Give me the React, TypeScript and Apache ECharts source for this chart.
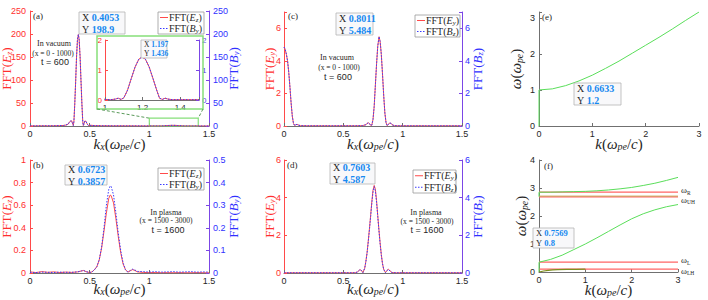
import React, { useEffect, useRef } from 'react';
import * as echarts from 'echarts';

// ================= DATA =================
// (a) in vacuum (x = 0 - 1000), t = 600
const aK = [0, 0.05, 0.1, 0.15, 0.2, 0.25, 0.28, 0.3, 0.32, 0.33, 0.34, 0.35, 0.357, 0.363, 0.368, 0.375, 0.383, 0.39, 0.398, 0.4053, 0.412, 0.42, 0.427, 0.435, 0.442, 0.447, 0.453, 0.46, 0.47, 0.48, 0.49, 0.51, 0.55, 0.6, 0.7, 0.8, 0.9, 1.0, 1.03, 1.055, 1.07, 1.085, 1.1, 1.12, 1.14, 1.16, 1.18, 1.197, 1.215, 1.235, 1.255, 1.275, 1.29, 1.305, 1.32, 1.335, 1.36, 1.4, 1.45, 1.5];
const aEz = [0.3, 0.2, 0.4, 0.3, 0.5, 0.7, 1.2, 2, 4, 8, 11, 11, 5, 1, 10, 48, 100, 150, 188, 198.9, 188, 150, 100, 48, 10, 1, 5, 11, 10, 4, 1, 1.5, 0.8, 0.5, 0.3, 0.3, 0.2, 0.02, 0.01, 0.03, 0.06, 0.02, 0.07, 0.33, 0.72, 1.1, 1.36, 1.436, 1.36, 1.1, 0.72, 0.33, 0.06, 0.02, 0.06, 0.03, 0.01, 0.01, 0.01, 0.01];
const aBy = [0.2, 0.3, 0.3, 0.4, 0.4, 0.8, 1.0, 2.2, 4, 8.5, 11, 10.5, 5, 1, 10, 47, 99, 151, 189, 198.9, 187, 149, 101, 47, 10, 1, 5, 11, 9.5, 4, 1, 1.3, 0.7, 0.5, 0.3, 0.2, 0.2, 0.02, 0.01, 0.03, 0.06, 0.02, 0.07, 0.33, 0.72, 1.1, 1.36, 1.436, 1.36, 1.1, 0.72, 0.33, 0.06, 0.02, 0.06, 0.03, 0.01, 0.01, 0.01, 0.01];
const aTip = ['0.4053', '198.9'];
const insetTip = ['1.197', '1.436'];
const zoomBoxK = [1, 1.41];
const zoomBoxV = [0, 17];

// (b) in plasma (x = 1500 - 3000), t = 1600
const bK = [0, 0.05, 0.1, 0.15, 0.2, 0.25, 0.3, 0.35, 0.4, 0.43, 0.45, 0.47, 0.5, 0.52, 0.54, 0.56, 0.58, 0.6, 0.62, 0.64, 0.66, 0.6723, 0.68, 0.7, 0.72, 0.74, 0.76, 0.78, 0.8, 0.82, 0.84, 0.86, 0.88, 0.9, 0.95, 1.0, 1.05, 1.1, 1.15, 1.2, 1.25, 1.3, 1.35, 1.4, 1.45, 1.5];
const bEz = [0.01, 0.004, 0.012, 0.006, 0.01, 0.004, 0.008, 0.005, 0.01, 0.018, 0.022, 0.012, 0.004, 0.01, 0.03, 0.055, 0.115, 0.22, 0.37, 0.53, 0.66, 0.69, 0.685, 0.62, 0.48, 0.32, 0.18, 0.08, 0.03, 0.008, 0.02, 0.03, 0.022, 0.01, 0.005, 0.003, 0.004, 0.002, 0.003, 0.002, 0.003, 0.002, 0.002, 0.003, 0.002, 0.002];
const bBy = [0.003, 0.002, 0.004, 0.003, 0.002, 0.004, 0.003, 0.003, 0.005, 0.009, 0.011, 0.006, 0.002, 0.005, 0.014, 0.028, 0.058, 0.115, 0.2, 0.3, 0.37, 0.3857, 0.383, 0.345, 0.265, 0.175, 0.1, 0.045, 0.015, 0.004, 0.011, 0.017, 0.013, 0.007, 0.006, 0.004, 0.006, 0.004, 0.005, 0.006, 0.004, 0.005, 0.006, 0.004, 0.005, 0.004];
const bTip = ['0.6723', '0.3857'];

// (c) in vacuum (x = 0 - 1000), t = 600
const cK = [0, 0.01, 0.02, 0.03, 0.04, 0.05, 0.06, 0.07, 0.08, 0.09, 0.1, 0.11, 0.12, 0.14, 0.2, 0.3, 0.4, 0.5, 0.6, 0.66, 0.69, 0.7, 0.71, 0.72, 0.73, 0.74, 0.75, 0.76, 0.77, 0.78, 0.79, 0.8011, 0.81, 0.82, 0.83, 0.84, 0.85, 0.86, 0.87, 0.88, 0.89, 0.9, 0.91, 0.93, 0.96, 1.0, 1.1, 1.2, 1.3, 1.4, 1.5];
const cEy = [4.85, 4.7, 4.4, 4.0, 3.3, 2.4, 1.4, 0.6, 0.15, 0.03, 0.08, 0.1, 0.06, 0.02, 0.01, 0.01, 0.01, 0.01, 0.01, 0.02, 0.08, 0.15, 0.2, 0.15, 0.04, 0.05, 0.4, 1.2, 2.5, 3.8, 4.9, 5.484, 5.2, 4.4, 3.2, 1.9, 0.8, 0.2, 0.02, 0.1, 0.19, 0.17, 0.08, 0.02, 0.01, 0.01, 0.01, 0.01, 0.01, 0.01, 0.01];
const cBz = [4.85, 4.72, 4.42, 4.0, 3.32, 2.4, 1.42, 0.6, 0.16, 0.03, 0.08, 0.1, 0.06, 0.02, 0.01, 0.01, 0.01, 0.01, 0.01, 0.02, 0.08, 0.15, 0.2, 0.15, 0.04, 0.05, 0.4, 1.2, 2.5, 3.8, 4.9, 5.484, 5.2, 4.4, 3.2, 1.9, 0.8, 0.2, 0.02, 0.1, 0.19, 0.17, 0.08, 0.02, 0.01, 0.01, 0.01, 0.01, 0.01, 0.01, 0.01];
const cTip = ['0.8011', '5.484'];

// (d) in plasma (x = 1500 - 3000), t = 1600
const dK = [0, 0.1, 0.2, 0.3, 0.4, 0.5, 0.55, 0.6, 0.62, 0.64, 0.655, 0.665, 0.68, 0.69, 0.7, 0.71, 0.72, 0.73, 0.74, 0.75, 0.7603, 0.77, 0.78, 0.79, 0.8, 0.81, 0.82, 0.83, 0.84, 0.855, 0.87, 0.88, 0.895, 0.91, 0.95, 1.0, 1.1, 1.2, 1.3, 1.4, 1.5];
const dEy = [0.01, 0.01, 0.01, 0.01, 0.01, 0.01, 0.01, 0.01, 0.06, 0.18, 0.12, 0.02, 0.25, 0.62, 1.08, 1.7, 2.35, 3.05, 3.78, 4.4, 4.65, 4.45, 3.85, 3.05, 2.3, 1.6, 0.98, 0.5, 0.2, 0.02, 0.15, 0.2, 0.1, 0.02, 0.01, 0.01, 0.01, 0.01, 0.01, 0.01, 0.01];
const dBz = [0.01, 0.01, 0.01, 0.01, 0.01, 0.01, 0.01, 0.01, 0.06, 0.18, 0.12, 0.02, 0.25, 0.6, 1.05, 1.65, 2.3, 3.0, 3.7, 4.3, 4.587, 4.35, 3.75, 3.0, 2.25, 1.55, 0.95, 0.5, 0.2, 0.02, 0.15, 0.2, 0.1, 0.02, 0.01, 0.01, 0.01, 0.01, 0.01, 0.01, 0.01];
const dTip = ['0.7603', '4.587'];

// (e) vacuum dispersion
const eK = [0, 0, 0.25, 0.5, 0.75, 1, 1.25, 1.5, 1.75, 2, 2.25, 2.5, 2.75, 3];
const eW = [0, 1, 1.03, 1.12, 1.25, 1.41, 1.6, 1.8, 2.02, 2.24, 2.46, 2.69, 2.93, 3.162];
const eTip = ['0.6633', '1.2'];

// (f) magnetised plasma dispersion
const fK = [0, 0, 0.25, 0.5, 0.75, 1, 1.25, 1.5, 1.75, 2, 2.25, 2.5, 2.75, 3];
const fUpper = [2.69, 2.85, 2.85, 2.86, 2.87, 2.88, 2.9, 2.93, 2.97, 3.02, 3.09, 3.17, 3.27, 3.38];
const fMiddle = [0, 0.35, 0.45, 0.6, 0.8, 1.0, 1.22, 1.45, 1.68, 1.9, 2.08, 2.22, 2.33, 2.41];
const fLowK = [0, 0.1, 0.2, 0.3, 0.4, 0.6, 0.8, 1.0];
const fLow = [0, 0.035, 0.06, 0.075, 0.085, 0.093, 0.097, 0.1];
const fCutLabels = ['R', 'UH', 'L', 'LH'];
const fCutW = [2.85, 2.68, 0.35, 0.1];
const fCutLabelShift = [-2, 3, -2, 1.5];
const fUHshadeW = 2.71;
const fCutK = [0, 3];
const fTip = ['0.7569', '0.8'];

// axis ranges / ticks
const kMaxFFT = 1.5, kStepFFT = 0.5;
const aYMax = 250, aYStep = 50;
const bYMax = 1, bYStep = 0.2, bY2Max = 0.5, bY2Step = 0.1;
const cYMax = 7, cYStep = 2;
const dYMax = 6, dYStep = 2;
const eXMax = 3, eYMax = 3.162, fYMax = 4;
const insetX = [1, 1.5, 0.2];
const insetY = [0, 2, 1];

// ================= STYLE =================
const SERIF = '"Liberation Serif", "Times New Roman", serif';
const SANS = '"Liberation Sans", Arial, sans-serif';
const RED = '#ff4a4a';
const RED_TXT = '#ff2e2e';
const BLUE = '#3b3bff';
const BLUE_TXT = '#3030ff';
const PURPLE = '#7b46e6';
const GREEN = '#5ade5a';
const BOXGREEN = '#86e07a';
const GRAY = '#707070';
const TXT = '#262626';
const TIPBLUE = '#1688f0';

const G: Record<string, { left: number; top: number; width: number; height: number }> = {
  a: { left: 30, top: 11, width: 179, height: 115 },
  b: { left: 30, top: 160, width: 179, height: 113 },
  c: { left: 284, top: 12, width: 178, height: 114 },
  d: { left: 284, top: 160, width: 178, height: 113 },
  e: { left: 539, top: 12, width: 160, height: 114 },
  f: { left: 539, top: 160, width: 139, height: 112 },
  i: { left: 105, top: 40, width: 94, height: 60 },
};

const pairs = (k: number[], v: number[]) => k.map((x, i) => [x, v[i]]);

const stepFmt = (step: number, base = 0) => (v: number) => {
  const r = (v - base) / step;
  return Math.abs(r - Math.round(r)) < 1e-6 ? String(+v.toFixed(4)) : '';
};

function rich(size: number, sub: number, lh?: number) {
  const L = lh ?? Math.round(size * 1.2);
  const subH = Math.max(2, Math.round(L - 0.75 * size));
  return {
    n: { fontFamily: SERIF, fontSize: size, lineHeight: L },
    i: { fontFamily: SERIF, fontSize: size, lineHeight: L, fontStyle: 'italic' },
    s: { fontFamily: SERIF, fontSize: sub, lineHeight: subH, verticalAlign: 'bottom' },
    si: { fontFamily: SERIF, fontSize: sub, lineHeight: subH, verticalAlign: 'bottom', fontStyle: 'italic' },
  };
}

const KX_NAME = '{i|k}{si|x}{n|(}{i|ω}{si|pe}{n|/}{i|c}{n|)}';
const K_NAME = '{i|k}{n|(}{i|ω}{si|pe}{n|/}{i|c}{n|)}';
const W_NAME = '{i|ω}{n|(}{i|ω}{si|pe}{n|)}';
const fft = (f: string, c: string) => `{n|FFT(}{i|${f}}{si|${c}}{n|)}`;

function xAx(grid: number, min: number, max: number, step: number, name: string, gap: number, labelSize = 9) {
  return {
    type: 'value', gridIndex: grid, min, max, interval: step,
    axisLine: { show: true, onZero: false, lineStyle: { color: GRAY, width: 1 } },
    axisTick: { show: true, inside: true, length: 3, lineStyle: { color: GRAY } },
    axisLabel: { show: true, fontFamily: SANS, fontSize: labelSize, color: TXT, margin: 3, formatter: stepFmt(step, min) },
    splitLine: { show: false },
    name, nameLocation: 'middle', nameGap: gap, nameMoveOverlap: false,
    nameTextStyle: { color: TXT, fontFamily: SERIF, fontSize: 15, rich: rich(15, 10, 15) },
  };
}

function yAx(grid: number, position: string, max: number, step: number, lineColor: string, labelColor: string,
  name: string, nameColor: string, gap: number, nameSize = 13, labelSize = 9, margin = 4) {
  return {
    type: 'value', gridIndex: grid, position, min: 0, max, interval: step,
    axisLine: { show: true, onZero: false, lineStyle: { color: lineColor, width: 1 } },
    axisTick: { show: true, inside: true, length: 3, lineStyle: { color: lineColor } },
    axisLabel: { show: true, fontFamily: SANS, fontSize: labelSize, color: labelColor, margin, formatter: stepFmt(step) },
    splitLine: { show: false },
    name, nameLocation: 'middle', nameGap: gap, nameMoveOverlap: false,
    nameTextStyle: { color: nameColor, fontFamily: SERIF, fontSize: nameSize, rich: rich(nameSize, nameSize * 0.65, nameSize + 1) },
  };
}

function line(xi: number, yi: number, data: any[], color: string, dash: any = 'solid', width = 1, z = 2, extra: any = {}) {
  return {
    type: 'line', xAxisIndex: xi, yAxisIndex: yi, data, symbol: 'none', showSymbol: false, silent: true,
    lineStyle: { color, width, type: dash }, itemStyle: { color }, clip: true, z, ...extra,
  };
}

// ---------- graphic helpers ----------
function legendBox(x: number, y: number, w: number, h: number, rows: { label: string; color: string; dash?: number[] }[]) {
  const els: any[] = [{ type: 'rect', z: 50, shape: { x, y, width: w, height: h }, style: { fill: '#ffffff', stroke: '#9a9a9a', lineWidth: 0.8 } }];
  rows.forEach((r, i) => {
    const cy = y + (h * (i + 0.5)) / rows.length;
    const st: any = { stroke: r.color, lineWidth: 1 };
    if (r.dash) st.lineDash = r.dash;
    els.push({ type: 'line', z: 51, shape: { x1: x + 2, y1: cy, x2: x + 10, y2: cy }, style: st });
    els.push({ type: 'text', z: 51, x: x + 11, y: cy, style: { text: r.label, rich: rich(10, 7), fill: TXT, verticalAlign: 'middle', align: 'left' } });
  });
  return els;
}

function tipBox(x: number, y: number, w: number, h: number, t: string[], size = 10) {
  const lh = size * 1.2;
  return [
    { type: 'rect', z: 60, shape: { x, y, width: w, height: h }, style: { fill: '#f8f8fa', stroke: '#b4b4b4', lineWidth: 0.8 } },
    {
      type: 'text', z: 61, x: x + 3, y: y + h / 2,
      style: {
        text: `{l|X }{v|${t[0]}}\n{l|Y }{v|${t[1]}}`,
        verticalAlign: 'middle', align: 'left',
        rich: {
          l: { fontFamily: SERIF, fontSize: size, lineHeight: lh, fill: TXT, color: TXT },
          v: { fontFamily: SERIF, fontSize: size, lineHeight: lh, fontWeight: 'bold', fill: TIPBLUE, color: TIPBLUE },
        },
      },
    },
  ];
}

function txt(x: number, y: number, text: string, size: number, family: string, align = 'center') {
  return { type: 'text', z: 40, x, y, style: { text, fontSize: size, fontFamily: family, fill: TXT, align, verticalAlign: 'middle' } };
}

// ================= OPTION =================
function buildOption() {
  const grids = ['a', 'b', 'c', 'd', 'e', 'f', 'i'].map((k) => ({ ...G[k], containLabel: false, outerBoundsMode: 'none' }));

  const xAxes = [
    xAx(0, 0, kMaxFFT, kStepFFT, KX_NAME, 10),
    xAx(1, 0, kMaxFFT, kStepFFT, KX_NAME, 8),
    xAx(2, 0, kMaxFFT, kStepFFT, KX_NAME, 10),
    xAx(3, 0, kMaxFFT, kStepFFT, KX_NAME, 8),
    xAx(4, 0, eXMax, 1, K_NAME, 10),
    xAx(5, 0, eXMax, 1, K_NAME, 10),
    { ...xAx(6, insetX[0], insetX[1], insetX[2], '', 0, 8), name: '' },
  ];

  const yAxes = [
    yAx(0, 'left', aYMax, aYStep, RED, RED_TXT, fft('E', 'z'), RED_TXT, 17),
    yAx(0, 'right', aYMax, aYStep, PURPLE, BLUE_TXT, fft('B', 'y'), BLUE_TXT, 17),
    yAx(1, 'left', bYMax, bYStep, RED, RED_TXT, fft('E', 'z'), RED_TXT, 17),
    yAx(1, 'right', bY2Max, bY2Step, PURPLE, BLUE_TXT, fft('B', 'y'), BLUE_TXT, 17),
    yAx(2, 'left', cYMax, cYStep, RED, RED_TXT, fft('E', 'y'), RED_TXT, 8, 13, 9, 3),
    yAx(2, 'right', cYMax, cYStep, PURPLE, BLUE_TXT, fft('B', 'z'), BLUE_TXT, 8, 13, 9, 3),
    yAx(3, 'left', dYMax, dYStep, RED, RED_TXT, fft('E', 'y'), RED_TXT, 8, 13, 9, 3),
    yAx(3, 'right', dYMax, dYStep, PURPLE, BLUE_TXT, fft('B', 'z'), BLUE_TXT, 8, 13, 9, 3),
    yAx(4, 'left', eYMax, 1, GRAY, TXT, W_NAME, TXT, 15, 15),
    yAx(5, 'left', fYMax, 1, GRAY, TXT, W_NAME, TXT, 10, 15),
    { ...yAx(6, 'left', insetY[1], insetY[2], RED, RED_TXT, '', RED_TXT, 0, 13, 8, 3), name: '' },
    { ...yAx(6, 'right', insetY[1], insetY[2], PURPLE, '#5a3ce8', '', BLUE_TXT, 0, 13, 8, 3), name: '' },
  ];

  const dotted = [1.5, 1.5];
  const cutRich = {
    w: { fontFamily: SERIF, fontSize: 9, lineHeight: 11 },
    s: { fontFamily: SERIF, fontSize: 5.5, lineHeight: 4, verticalAlign: 'bottom' },
  };

  const series: any[] = [
    line(0, 0, pairs(aK, aEz), RED, 'solid', 1, 2, {
      markArea: {
        silent: true,
        itemStyle: { color: 'rgba(0,0,0,0)', borderColor: BOXGREEN, borderWidth: 1.2 },
        data: [[{ xAxis: zoomBoxK[0], yAxis: zoomBoxV[0] }, { xAxis: zoomBoxK[1], yAxis: zoomBoxV[1] }]],
      },
    }),
    line(0, 1, pairs(aK, aBy), BLUE, dotted, 1, 3),
    line(1, 2, pairs(bK, bEz), RED, 'solid', 1, 2),
    line(1, 3, pairs(bK, bBy), BLUE, dotted, 1, 3),
    line(2, 4, pairs(cK, cEy), RED, 'solid', 1, 2),
    line(2, 5, pairs(cK, cBz), BLUE, dotted, 1, 3),
    line(3, 6, pairs(dK, dEy), RED, 'solid', 1, 2),
    line(3, 7, pairs(dK, dBz), BLUE, dotted, 1, 3),
    line(4, 8, pairs(eK, eW), GREEN, 'solid', 1, 2),
    line(6, 10, pairs(aK, aEz), RED, 'solid', 1, 2),
    line(6, 11, pairs(aK, aBy), BLUE, dotted, 1, 3),
  ];

  // (f) cut-off / resonance lines
  fCutW.forEach((w, i) => {
    series.push(line(5, 9, pairs(fCutK, [w, w]), '#ff6464', 'solid', 1.2, 2, {
      endLabel: { show: true, formatter: `{w|ω}{s|${fCutLabels[i]}}`, distance: 3, offset: [0, fCutLabelShift[i]], color: TXT, rich: cutRich },
    }));
  });
  series.push(line(5, 9, pairs(fCutK, [fUHshadeW, fUHshadeW]), '#c9a45a', 'solid', 1, 2));
  series.push(line(5, 9, pairs(fK, fUpper), GREEN, 'solid', 1, 3));
  series.push(line(5, 9, pairs(fK, fMiddle), GREEN, 'solid', 1, 3));
  series.push(line(5, 9, pairs(fLowK, fLow), '#7d8f1e', 'solid', 1.2, 3));

  // pixel helpers for inset connectors
  const ga = G.a;
  const px = (k: number) => ga.left + (k / kMaxFFT) * ga.width;
  const py = (v: number) => ga.top + ga.height - (v / aYMax) * ga.height;
  const inset = { x: 97, y: 36, w: 106, h: 73 };

  const graphics: any[] = [
    { type: 'rect', z: 1, shape: { x: inset.x, y: inset.y, width: inset.w, height: inset.h }, style: { fill: 'none', stroke: BOXGREEN, lineWidth: 1.5 } },
    { type: 'line', z: 1, shape: { x1: inset.x, y1: inset.y + inset.h, x2: px(zoomBoxK[0]), y2: py(zoomBoxV[1]) }, style: { stroke: '#5a9a5a', lineWidth: 1, lineDash: [3, 2] } },
    { type: 'line', z: 1, shape: { x1: inset.x + inset.w, y1: inset.y + inset.h, x2: px(zoomBoxK[1]), y2: py(zoomBoxV[1]) }, style: { stroke: '#5a9a5a', lineWidth: 1, lineDash: [3, 2] } },

    ...legendBox(158, 12, 46, 22, [{ label: fft('E', 'z'), color: RED }, { label: fft('B', 'y'), color: BLUE, dash: dotted }]),
    ...legendBox(158, 168, 46, 22, [{ label: fft('E', 'z'), color: RED }, { label: fft('B', 'y'), color: BLUE, dash: dotted }]),
    ...legendBox(415, 15, 45, 22, [{ label: fft('E', 'y'), color: RED }, { label: fft('B', 'z'), color: BLUE, dash: dotted }]),
    ...legendBox(413, 170, 43, 23, [{ label: fft('E', 'y'), color: RED }, { label: fft('B', 'z'), color: BLUE, dash: dotted }]),

    ...tipBox(79, 12, 46, 22, aTip),
    ...tipBox(141, 40, 26, 18, insetTip, 7.5),
    ...tipBox(65, 165, 42, 20, bTip),
    ...tipBox(336, 13, 37, 22, cTip),
    ...tipBox(330, 163, 45, 21, dTip),
    ...tipBox(574, 83, 47, 22, eTip),
    ...tipBox(533, 228, 41, 20, fTip, 8.5),

    txt(33, 16, '(a)', 9, SERIF, 'left'),
    txt(54, 43, 'In vacuum', 8, SERIF),
    txt(53, 53, '(x = 0 - 1000)', 7.5, SERIF),
    txt(55, 61.5, 't = 600', 9, SANS),

    txt(33, 165, '(b)', 9, SERIF, 'left'),
    txt(166, 212, 'In plasma', 8, SERIF),
    txt(166, 220.5, '(x = 1500 - 3000)', 7.5, SERIF),
    txt(168, 229.5, 't = 1600', 9, SANS),

    txt(288, 16, '(c)', 9, SERIF, 'left'),
    txt(337, 57, 'In vacuum', 8, SERIF),
    txt(339, 67, '(x = 0 - 1000)', 7.5, SERIF),
    txt(338, 77, 't = 600', 9, SANS),

    txt(287, 165, '(d)', 9, SERIF, 'left'),
    txt(426, 212, 'In plasma', 8, SERIF),
    txt(427, 221, '(x = 1500 - 3000)', 7.5, SERIF),
    txt(427, 229.5, 't = 1600', 9, SANS),

    txt(542, 17, '(e)', 9, SERIF, 'left'),
    txt(544, 166, '(f)', 9, SERIF, 'left'),
  ];

  return {
    animation: false,
    backgroundColor: '#ffffff',
    textStyle: { fontFamily: SANS },
    grid: grids,
    xAxis: xAxes,
    yAxis: yAxes,
    series,
    graphic: { elements: graphics },
  };
}

export default function App() {
  const ref = useRef<HTMLDivElement>(null);
  useEffect(() => {
    if (!ref.current) return;
    const chart = echarts.init(ref.current, undefined, { renderer: 'svg', width: 708, height: 300 });
    chart.setOption(buildOption() as any);
    return () => chart.dispose();
  }, []);
  return (
    <div
      ref={ref}
      style={{ position: 'absolute', left: 0, top: 0, width: 708, height: 300, background: '#ffffff' }}
    />
  );
}
